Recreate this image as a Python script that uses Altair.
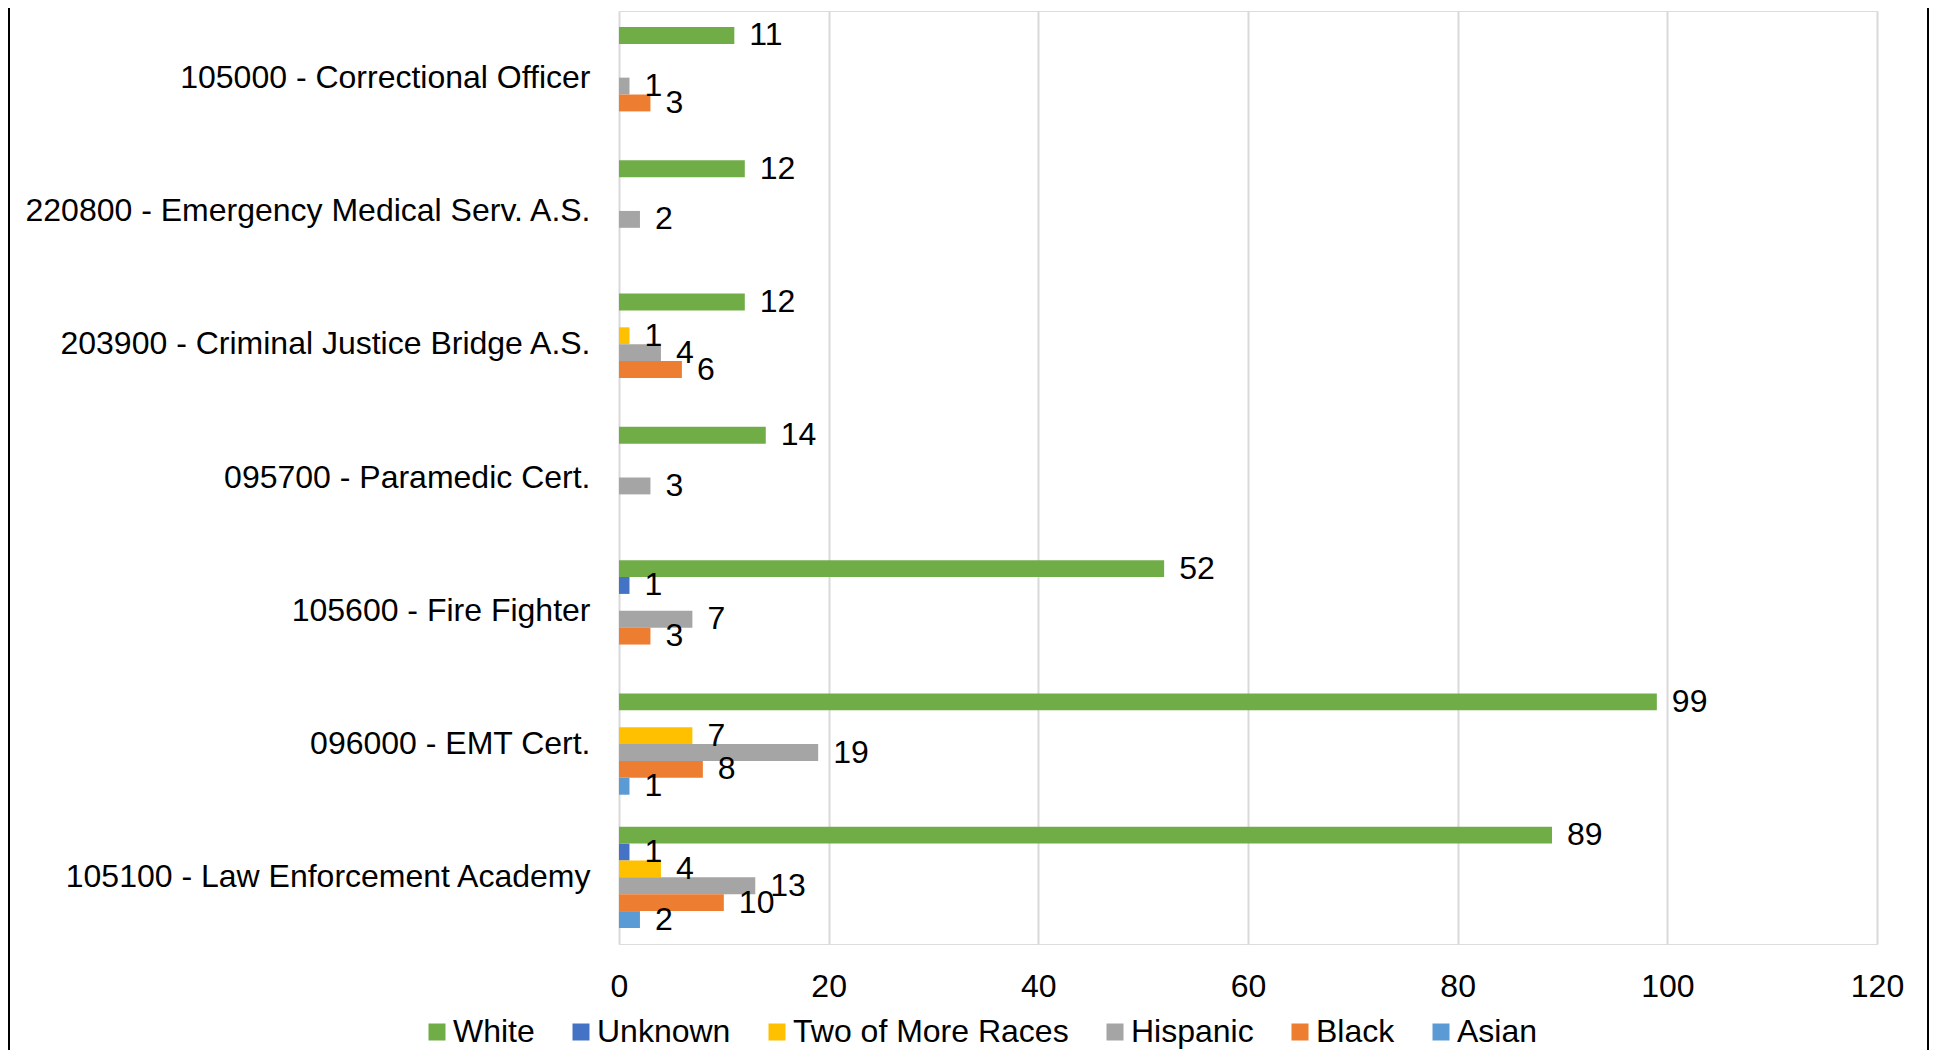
import altair as alt
import pandas as pd

programs = [
    "105000 - Correctional Officer",
    "220800 - Emergency Medical Serv. A.S.",
    "203900 - Criminal Justice Bridge A.S.",
    "095700 - Paramedic Cert.",
    "105600 - Fire Fighter",
    "096000 - EMT Cert.",
    "105100 - Law Enforcement Academy",
]
races = ["White", "Unknown", "Two of More Races", "Hispanic", "Black", "Asian"]
colors = ["#70AD47", "#4472C4", "#FFC000", "#A5A5A5", "#ED7D31", "#5B9BD5"]

white = [11, 12, 12, 14, 52, 99, 89]
unknown = [0, 0, 0, 0, 1, 0, 1]
two_more = [0, 0, 1, 0, 0, 7, 4]
hispanic = [1, 2, 4, 3, 7, 19, 13]
black = [3, 0, 6, 0, 3, 8, 10]
asian = [0, 0, 0, 0, 0, 1, 2]

series = [white, unknown, two_more, hispanic, black, asian]
rows = []
for race, vals in zip(races, series):
    for prog, v in zip(programs, vals):
        if v:
            rows.append({"program": prog, "race": race, "value": v})
df = pd.DataFrame(rows)

FONT = "Liberation Sans"
FS = 32

y_enc = alt.Y(
    "program:N",
    sort=programs,
    scale=alt.Scale(paddingInner=0.24, paddingOuter=0.12),
    axis=alt.Axis(
        title=None, domain=False, ticks=False, labelFontSize=FS, labelColor="black",
        labelPadding=29, labelLimit=0, labelFont=FONT,
    ),
)
yoff = alt.YOffset("race:N", sort=races, scale=alt.Scale(paddingInner=0, paddingOuter=0))
x_enc = alt.X(
    "value:Q",
    scale=alt.Scale(domain=[0, 120], nice=False),
    axis=alt.Axis(
        title=None, values=[0, 20, 40, 60, 80, 100, 120], grid=True, gridColor="#D9D9D9",
        gridWidth=2, domain=False, ticks=False, labelFontSize=FS, labelColor="black",
        labelPadding=27, labelFont=FONT, labelFlush=False,
    ),
)
color_enc = alt.Color(
    "race:N",
    sort=races,
    scale=alt.Scale(domain=races, range=colors),
    legend=alt.Legend(
        title=None, orient="none", legendX=-198, legendY=1005, direction="horizontal",
        columns=6, symbolType="square", symbolSize=289, symbolStrokeWidth=0,
        labelFontSize=FS, labelFont=FONT, labelColor="black", labelOffset=0,
        columnPadding=30, padding=0, labelLimit=0,
    ),
)

bars = alt.Chart(df).mark_bar().encode(y=y_enc, yOffset=yoff, x=x_enc, color=color_enc)

labels = alt.Chart(df).mark_text(
    align="left", baseline="middle", dx=15, fontSize=FS, font=FONT, color="black"
).encode(y=alt.Y("program:N", sort=programs), yOffset=alt.YOffset("race:N", sort=races), x="value:Q", text="value:Q")

frame_df = pd.DataFrame({"k": [0]})
left_border = alt.Chart(frame_df).mark_rule(color="black", strokeWidth=2).encode(
    x=alt.value(-610), y=alt.value(-3), y2=alt.value(1040)
)
right_border = alt.Chart(frame_df).mark_rule(color="black", strokeWidth=2).encode(
    x=alt.value(1309), y=alt.value(-3), y2=alt.value(1040)
)

chart = (
    alt.layer(bars, labels, left_border, right_border)
    .properties(
        width=1258,
        height=933,
        padding={"left": 611, "top": 3, "right": 53, "bottom": 106},
        autosize=alt.AutoSizeParams(type="none"),
    )
    .configure_view(stroke=None)
    .configure(font=FONT)
)

chart.save("out.html", embed_options={"renderer": "svg", "actions": False})
